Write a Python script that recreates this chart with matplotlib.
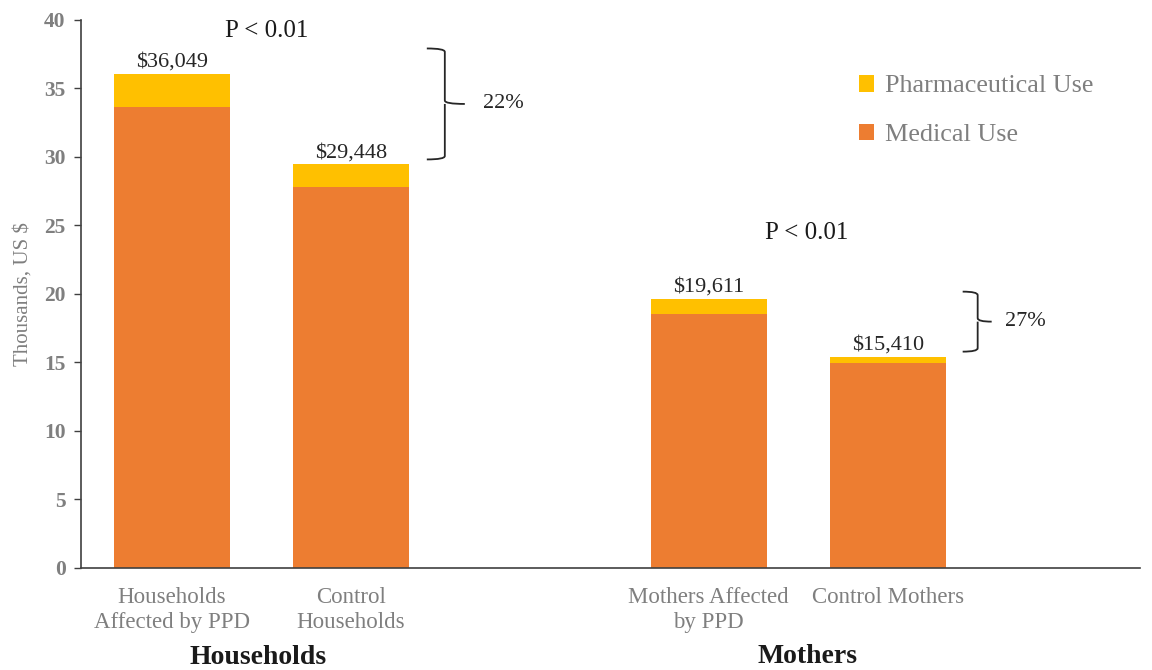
import matplotlib
matplotlib.use("Agg")
import matplotlib.pyplot as plt
from matplotlib.path import Path
from matplotlib.patches import PathPatch

plt.rcParams['font.family'] = ['Liberation Serif', 'DejaVu Serif']

# ---- data ----
categories = ["Households\nAffected by PPD", "Control\nHouseholds",
              "Mothers Affected\nby PPD", "Control Mothers"]
positions = [0, 1, 3, 4]
medical = [33.65, 27.77, 18.54, 14.92]
totals = [36.049, 29.448, 19.611, 15.410]
pharma = [t - m for t, m in zip(totals, medical)]
total_labels = ["$36,049", "$29,448", "$19,611", "$15,410"]
group_names = ["Households", "Mothers"]
pct_labels = ["22%", "27%"]
series_names = ["Medical Use", "Pharmaceutical Use"]

ORANGE = "#ED7D31"
YELLOW = "#FFC000"
GRAY = "#7F7F7F"

fig = plt.figure(figsize=(11.52, 6.70), dpi=100)
ax = fig.add_axes([0.0703, 0.1527, 0.9193, 0.8179])

b1 = ax.bar(positions, medical, width=0.65, color=ORANGE, label=series_names[0])
b2 = ax.bar(positions, pharma, width=0.65, bottom=medical, color=YELLOW, label=series_names[1])

for p, t, lab in zip(positions, totals, total_labels):
    ax.text(p, t + 0.15, lab, ha='center', va='bottom', fontsize=16, color='#262626')

ax.set_xlim(-0.508, 5.41)
ax.set_ylim(0, 40)
ax.set_yticks(range(0, 41, 5))
ax.set_xticks(positions)
ax.set_xticklabels(categories, fontsize=16.5, color=GRAY, linespacing=1.25)
ax.tick_params(axis='x', length=0, pad=14)
ax.tick_params(axis='y', length=5, width=1, color='#404040', labelsize=15.5, labelcolor=GRAY, pad=6)
for lbl in ax.get_yticklabels():
    lbl.set_fontweight('bold')

for s in ['top', 'right']:
    ax.spines[s].set_visible(False)
for s in ['left', 'bottom']:
    ax.spines[s].set_color('#404040')
    ax.spines[s].set_linewidth(1.2)

ax.set_ylabel("Thousands, US $", fontsize=15, color=GRAY, labelpad=8)

# group labels
ax.text(0.48, -6.55, group_names[0], ha='center', va='center', fontsize=20,
        fontweight='bold', color='#1a1a1a', clip_on=False)
ax.text(3.55, -6.5, group_names[1], ha='center', va='center', fontsize=20,
        fontweight='bold', color='#1a1a1a', clip_on=False)

# p-values
ax.text(0.53, 39.2, "P < 0.01", ha='center', va='center', fontsize=18, color='#1a1a1a', clip_on=False)
ax.text(3.55, 24.45, "P < 0.01", ha='center', va='center', fontsize=18, color='#1a1a1a')

# braces
def px2x(px):
    return (px - 172) / 179.0

def brace(x0p, xvp, xtp, top, bottom, mid):
    x0, xv, xt = px2x(x0p), px2x(xvp), px2x(xtp)
    d = 0.25
    verts = [(x0, top), (xv, top), (xv, top - d),
             (xv, mid + d), (xv, mid), (xt, mid),
             (xv, mid), (xv, mid - d),
             (xv, bottom + d), (xv, bottom), (x0, bottom)]
    codes = [Path.MOVETO, Path.CURVE3, Path.CURVE3,
             Path.LINETO, Path.CURVE3, Path.CURVE3,
             Path.MOVETO, Path.CURVE3,
             Path.LINETO, Path.CURVE3, Path.CURVE3]
    ax.add_patch(PathPatch(Path(verts, codes), fill=False, lw=1.3,
                           edgecolor='#262626', clip_on=False))

brace(427, 445, 465, 37.9, 29.8, 33.85)
brace(963, 978, 992, 20.15, 15.77, 17.96)
ax.text(px2x(483), 33.85, pct_labels[0], ha='left', va='center', fontsize=16, color='#262626')
ax.text(px2x(1005), 17.96, pct_labels[1], ha='left', va='center', fontsize=16, color='#262626')

leg = ax.legend(handles=[b2, b1], loc='upper left', bbox_to_anchor=(0.712, 0.942),
                frameon=False, fontsize=18.8, handlelength=0.6, handleheight=0.6,
                handletextpad=0.4, labelspacing=1.0, labelcolor=GRAY)

fig.savefig("out.png", dpi=100)
